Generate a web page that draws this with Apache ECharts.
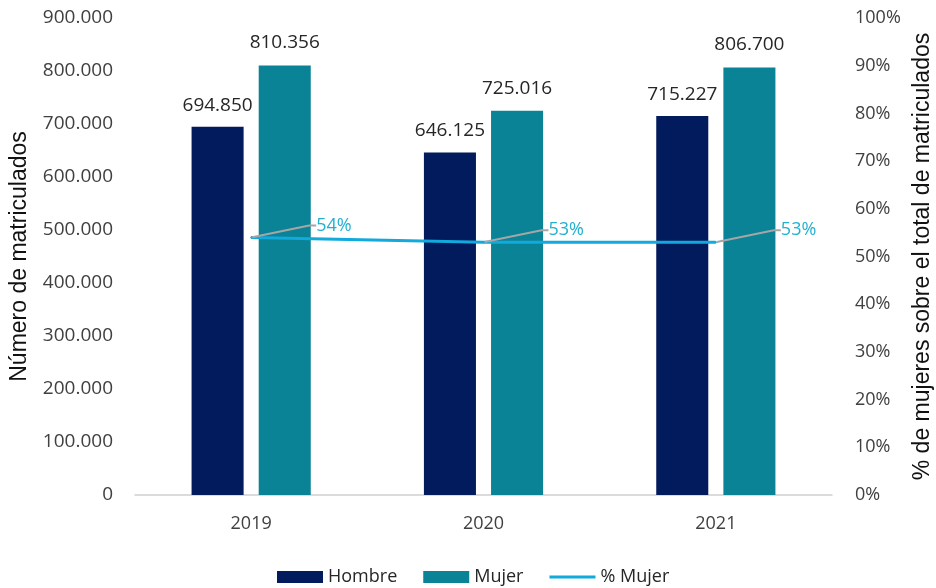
<!DOCTYPE html>
<html>
<head>
<meta charset="utf-8">
<script src="https://cdn.jsdelivr.net/npm/echarts@6/dist/echarts.min.js"></script>
<style>
  html, body { margin: 0; padding: 0; background: #ffffff; }
  #chart { width: 936px; height: 588px; }
</style>
</head>
<body>
<div id="chart"></div>
<script>
// Matriculados por sexo y año
const years = ['2019', '2020', '2021'];
const hombre = [694850, 646125, 715227];
const mujer = [810356, 725016, 806700];
const pctMujer = [54, 53, 53];

const leftTicks = { min: 0, max: 900000, interval: 100000 };
const rightTicks = { min: 0, max: 100, interval: 10 };

const FONT = '"Open Sans", sans-serif';
const NAME_FONT = '"Liberation Sans", Arial, sans-serif';
const TEXT = '#404040';

// 810356 -> "810.356"
function miles(v) {
  return String(Math.round(v)).replace(/\B(?=(\d{3})+(?!\d))/g, '.');
}

const chart = echarts.init(document.getElementById('chart'), null, { renderer: 'canvas' });

chart.setOption({
  animation: false,
  textStyle: { fontFamily: FONT },
  grid: { left: 135, right: 104, top: 18, bottom: 93, containLabel: false, outerBoundsMode: 'none' },
  legend: {
    left: 272,
    top: 563,
    itemWidth: 46,
    itemHeight: 12,
    itemGap: 26,
    textStyle: { fontFamily: FONT, fontSize: 18, color: '#262626' },
    data: [
      { name: 'Hombre', icon: 'rect' },
      { name: 'Mujer', icon: 'rect' },
      { name: '% Mujer', icon: 'path://M0,0 H46 V3 H0 Z' }
    ]
  },
  xAxis: {
    type: 'category',
    data: years,
    axisLine: { lineStyle: { color: '#d0d0d0', width: 1.5 } },
    axisTick: { show: false },
    axisLabel: { fontFamily: FONT, fontSize: 18, color: TEXT, margin: 20 }
  },
  yAxis: [
    {
      type: 'value',
      min: leftTicks.min,
      max: leftTicks.max,
      interval: leftTicks.interval,
      name: 'Número de matriculados',
      nameLocation: 'middle',
      nameGap: 104,
      nameTextStyle: { fontFamily: NAME_FONT, fontSize: 23, color: '#111' },
      splitLine: { show: false },
      axisLine: { show: false },
      axisTick: { show: false },
      axisLabel: { fontFamily: FONT, fontSize: 19, color: TEXT, margin: 22, formatter: miles }
    },
    {
      type: 'value',
      min: rightTicks.min,
      max: rightTicks.max,
      interval: rightTicks.interval,
      name: '% de mujeres sobre el total de matriculados',
      nameLocation: 'middle',
      nameGap: 79,
      nameRotate: 90,
      nameTextStyle: { fontFamily: NAME_FONT, fontSize: 23, color: '#111' },
      splitLine: { show: false },
      axisLine: { show: false },
      axisTick: { show: false },
      axisLabel: { fontFamily: FONT, fontSize: 18, color: TEXT, margin: 23, formatter: '{value}%' }
    }
  ],
  series: [
    {
      name: 'Hombre',
      type: 'bar',
      data: hombre,
      barWidth: '22.4%',
      barGap: '29%',
      itemStyle: { color: '#021b5c' },
      label: {
        show: true, position: 'top', distance: 12,
        fontFamily: FONT, fontSize: 19, color: '#262626',
        formatter: p => miles(p.value)
      }
    },
    {
      name: 'Mujer',
      type: 'bar',
      data: mujer,
      barWidth: '22.4%',
      itemStyle: { color: '#0a8396' },
      label: {
        show: true, position: 'top', distance: 13,
        fontFamily: FONT, fontSize: 19, color: '#262626',
        formatter: p => miles(p.value)
      }
    },
    {
      name: '% Mujer',
      type: 'line',
      yAxisIndex: 1,
      data: pctMujer,
      symbol: 'circle',
      symbolSize: 2,
      itemStyle: { color: '#12a9dc' },
      lineStyle: { color: '#12a9dc', width: 3 },
      label: {
        show: true, position: 'right', distance: 5,
        fontFamily: FONT, fontSize: 18, color: '#22b0cf',
        formatter: '{c}%'
      },
      labelLayout: { dx: 59, dy: -12 },
      labelLine: {
        show: true,
        length2: 7,
        lineStyle: { color: '#a6a6a6', width: 2 }
      }
    }
  ]
});
</script>
</body>
</html>
